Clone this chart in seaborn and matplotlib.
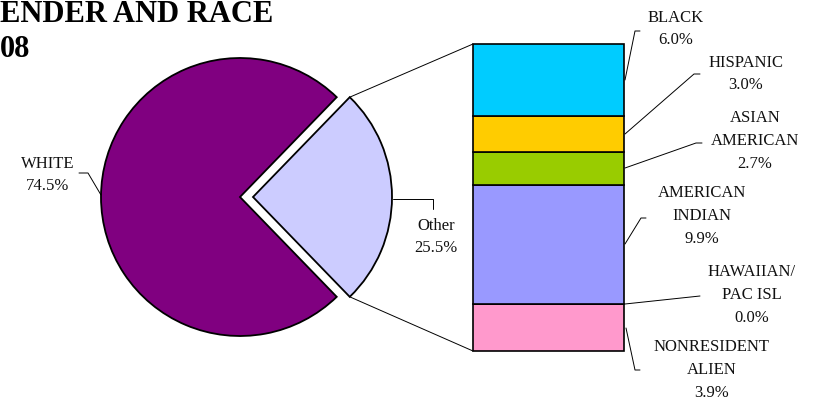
import numpy as np
import matplotlib
matplotlib.use("Agg")
import matplotlib.pyplot as plt
import seaborn as sns

# ---------------- data ----------------
pie_labels = ["WHITE", "Other"]
pie_values = [74.5, 25.5]
pie_colors = ["#800080", "#CCCCFF"]

bar_labels = ["BLACK", "HISPANIC", "ASIAN\nAMERICAN", "AMERICAN\nINDIAN",
              "HAWAIIAN/\nPAC ISL", "NONRESIDENT\nALIEN"]
bar_values = [6.0, 3.0, 2.7, 9.9, 0.0, 3.9]
bar_colors = ["#00CCFF", "#FFCC00", "#99CC00", "#9999FF", "#FFFF99", "#FF99CC"]

title_lines = ["ENDER AND RACE", "08"]

# ---------------- style ----------------
sns.set_theme(style="white")
plt.rcParams["font.family"] = ["Liberation Serif", "DejaVu Serif"]

W, H = 823, 404
fig = plt.figure(figsize=(W / 100, H / 100), dpi=100)
fig.patch.set_facecolor("white")

# main axes in pixel coordinates (y downward)
ax = fig.add_axes([0, 0, 1, 1])
cx, cy, r = 240, 197, 139
explode_px = 13
startangle = 360 - pie_values[0] / 100 * 360 - (pie_values[1] / 100 * 360) / 2
wedges, _ = ax.pie(pie_values, colors=pie_colors, center=(cx, cy), radius=r,
                   startangle=startangle, explode=[0, explode_px],
                   wedgeprops=dict(edgecolor="black", linewidth=1.3),
                   frame=False)
ax.set_xlim(0, W)
ax.set_ylim(H, 0)
ax.set_aspect("equal")
ax.axis("off")

# ---------------- stacked bar ----------------
bx0, bx1, by0, by1 = 473, 624, 44, 351
bax = fig.add_axes([bx0 / W, 1 - by1 / H, (bx1 - bx0) / W, (by1 - by0) / H])
total = sum(bar_values)
bottom = 0.0
for lab, val, col in reversed(list(zip(bar_labels, bar_values, bar_colors))):
    bax.bar(0, val, width=1.0, bottom=bottom, color=col, edgecolor="black",
            linewidth=1.2, clip_on=False)
    bottom += val
bax.set_xlim(-0.5, 0.5)
bax.set_ylim(0, total)
bax.axis("off")

# ---------------- connector lines ----------------
half = np.deg2rad(pie_values[1] / 100 * 360 / 2)
vx, vy = cx + explode_px, cy
top_corner = (vx + r * np.cos(half), vy - r * np.sin(half))
bot_corner = (vx + r * np.cos(half), vy + r * np.sin(half))
ax.plot([top_corner[0], bx0], [top_corner[1], by0], color="black", lw=0.7)
ax.plot([bot_corner[0], bx0], [bot_corner[1], by1], color="black", lw=0.7)

# ---------------- labels ----------------
fs = 12
ls = 1.55
txtc = "#111111"

def label(x, y, text, leader):
    ax.text(x, y, text, ha="center", va="center", fontsize=fs,
            linespacing=ls, color=txtc)
    xs, ys = zip(*leader)
    ax.plot(xs, ys, color="black", lw=0.7)

label(48, 175, f"{pie_labels[0]}\n{pie_values[0]:.1f}%",
      [(79, 173), (88, 173), (101, 195)])
label(436, 237, f"{pie_labels[1]}\n{pie_values[1]:.1f}%",
      [(393, 199), (433, 199), (433, 209)])

bar_text_pos = [(676, 29), (746, 74), (755, 141), (702, 216), (752, 295), (712, 370)]
bar_leaders = [
    [(625, 80), (635, 31), (640, 31)],
    [(625, 134), (694, 74), (700, 74)],
    [(625, 168), (696, 143), (702, 143)],
    [(625, 244), (641, 218), (646, 218)],
    [(625, 304), (700, 296)],
    [(626, 328), (635, 370), (640, 370)],
]
for lab, val, (tx, ty), ld in zip(bar_labels, bar_values, bar_text_pos, bar_leaders):
    label(tx, ty, f"{lab}\n{val:.1f}%", ld)

# ---------------- clipped title ----------------
ax.text(0, 22, title_lines[0], ha="left", va="baseline", fontsize=22,
        fontweight="bold", color="black")
ax.text(0, 57, title_lines[1], ha="left", va="baseline", fontsize=22,
        fontweight="bold", color="black")

fig.savefig("out.png", dpi=100, facecolor="white")
